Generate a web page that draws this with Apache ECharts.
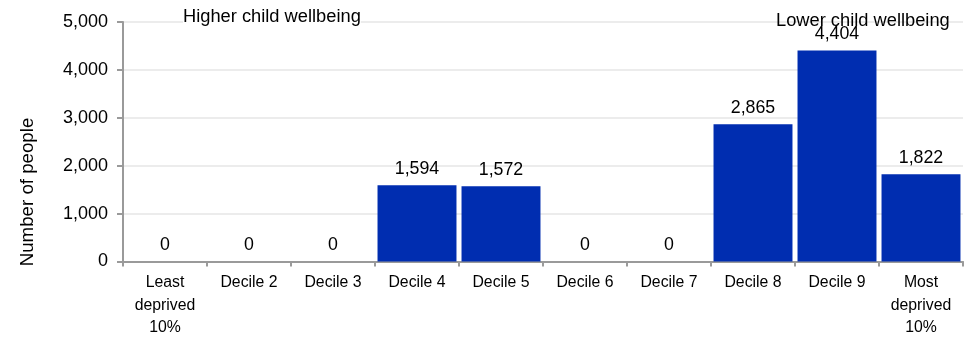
<!DOCTYPE html>
<html>
<head>
<meta charset="utf-8">
<style>html,body{margin:0;padding:0;background:#fff;}#c{width:968px;height:339px;}</style>
<script src="https://cdn.jsdelivr.net/npm/echarts@6/dist/echarts.min.js"></script>
</head>
<body>
<div id="c"></div>
<script>
var categories = ['Least\ndeprived\n10%', 'Decile 2', 'Decile 3', 'Decile 4', 'Decile 5', 'Decile 6', 'Decile 7', 'Decile 8', 'Decile 9', 'Most\ndeprived\n10%'];
var values = [0, 0, 0, 1594, 1572, 0, 0, 2865, 4404, 1822];
var yTicks = [0, 1000, 2000, 3000, 4000, 5000];
var yTitle = 'Number of people';
var leftNote = 'Higher child wellbeing';
var rightNote = 'Lower child wellbeing';

var FONT = 'Liberation Sans, Arial, sans-serif';
var chart = echarts.init(document.getElementById('c'), null, {renderer: 'canvas'});
chart.setOption({
  animation: false,
  backgroundColor: '#ffffff',
  grid: {left: 123, right: 5, top: 22, bottom: 75, containLabel: false},
  xAxis: {
    type: 'category',
    data: categories,
    axisLine: {lineStyle: {color: '#9a9a9a', width: 2}},
    axisTick: {show: true, length: 5, lineStyle: {color: '#9a9a9a', width: 2}},
    axisLabel: {color: '#000', fontFamily: FONT, fontSize: 15.8, lineHeight: 22.5, margin: 10, interval: 0}
  },
  yAxis: {
    type: 'value',
    min: yTicks[0],
    max: yTicks[yTicks.length - 1],
    interval: 1000,
    axisLine: {show: true, lineStyle: {color: '#9a9a9a', width: 2}},
    axisTick: {show: true, length: 6, lineStyle: {color: '#9a9a9a', width: 2}},
    splitLine: {show: true, lineStyle: {color: '#ececec', width: 2}},
    axisLabel: {
      color: '#000', fontFamily: FONT, fontSize: 18, margin: 15,
      formatter: function (v) { return v.toLocaleString('en-US'); }
    }
  },
  series: [{
    type: 'bar',
    data: values,
    barCategoryGap: '6%',
    itemStyle: {color: '#002db0'},
    label: {
      show: true, position: 'top', distance: 7,
      color: '#000', fontFamily: FONT, fontSize: 17.8,
      formatter: function (p) { return p.value.toLocaleString('en-US'); }
    }
  }],
  graphic: [
    {type: 'text', left: 183, top: 8, z: 100, style: {text: leftNote, font: '18.3px ' + FONT, fill: '#000', backgroundColor: '#fff'}},
    {type: 'text', left: 776, top: 12, z: 100, style: {text: rightNote, font: '18.3px ' + FONT, fill: '#000'}},
    {type: 'text', x: 28, y: 192, rotation: Math.PI / 2, z: 100,
     style: {text: yTitle, font: '18.7px ' + FONT, fill: '#000', align: 'center', verticalAlign: 'middle'}}
  ]
});
</script>
</body>
</html>
